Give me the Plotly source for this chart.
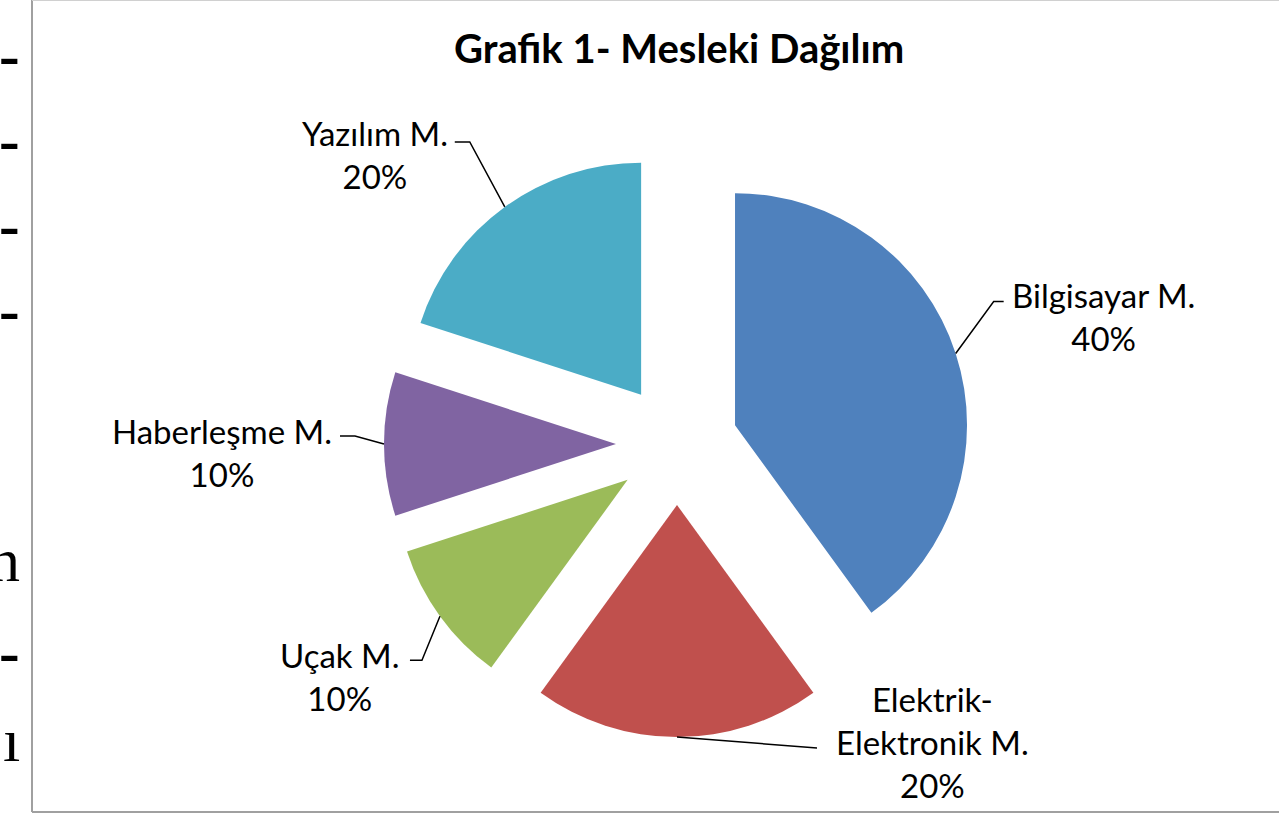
import math
import plotly.graph_objects as go

# ---- data ----
categories = ["Bilgisayar M.", "Elektrik-<br>Elektronik M.", "Uçak M.", "Haberleşme M.", "Yazılım M."]
values = [40, 20, 10, 10, 20]
colors = ["#4F81BD", "#C0504D", "#9BBB59", "#8064A2", "#4BACC6"]
title_text = "Grafik 1- Mesleki Dağılım"

# ---- layout constants (page pixels) ----
W, H = 1279, 815
CX, CY = 677, 444           # pie centre
R = 232                     # slice radius
PULL = 0.263
FONT = "Lato"

half = R * (1 + PULL)


def px(x):
    return x / W


def py(y):
    return 1 - y / H


dom_x = [px(CX - half), px(CX + half)]
dom_y = [py(CY + half), py(CY - half)]

fig = go.Figure()
fig.add_trace(go.Pie(
    labels=[c.replace("<br>", " ") for c in categories],
    values=values,
    sort=False,
    direction="clockwise",
    rotation=0,
    pull=[PULL] * len(values),
    marker=dict(colors=colors, line=dict(width=0)),
    textinfo="none",
    hoverinfo="label+percent",
    showlegend=False,
    domain=dict(x=dom_x, y=dom_y),
))

# label placement (elbow and text offsets relative to slice edge point)
label_style = [
    dict(elbow=(38, -52), stub=10, text=(148, -37)),
    dict(elbow=(140, 11), stub=0, text=(255, 5)),
    dict(elbow=(-18, 44), stub=-12, text=(-100, 60)),
    dict(elbow=(-29, -8), stub=-15, text=(-162, 8)),
    dict(elbow=(-35, -65), stub=-15, text=(-130, -52)),
]

frame = dict(color="#a0a0a0", width=2)
shapes = [
    dict(type="line", xref="paper", yref="paper", x0=px(32), x1=px(32), y0=py(812), y1=py(0), line=frame),
    dict(type="line", xref="paper", yref="paper", x0=px(32), x1=1, y0=py(812), y1=py(812), line=frame),
    dict(type="line", xref="paper", yref="paper", x0=px(32), x1=1, y0=py(0.5), y1=py(0.5),
         line=dict(color="#d0d0d0", width=1)),
]
annotations = []
total = sum(values)
cum = 0
for cat, v, st in zip(categories, values, label_style):
    mid = (cum + v / 2) / total * 2 * math.pi
    cum += v
    ax_ = CX + half * math.sin(mid)
    ay_ = CY - half * math.cos(mid)
    ex, ey = ax_ + st["elbow"][0], ay_ + st["elbow"][1]
    sx = ex + st["stub"]
    shapes.append(dict(type="path", xref="paper", yref="paper",
                       path=f"M {px(ax_)},{py(ay_)} L {px(ex)},{py(ey)} L {px(sx)},{py(ey)}",
                       line=dict(color="black", width=1.5)))
    pct = f"{round(v / total * 100)}%"
    annotations.append(dict(
        x=px(ax_ + st["text"][0]), y=py(ay_ + st["text"][1]), xref="paper", yref="paper",
        text=f"{cat}<br>{pct}", showarrow=False, align="center",
        xanchor="center", yanchor="middle",
        font=dict(family=FONT, size=33, color="black"),
    ))

annotations.append(dict(
    x=px(679), y=py(48), xref="paper", yref="paper", text=f"<b>{title_text}</b>",
    showarrow=False, xanchor="center", yanchor="middle",
    font=dict(family=FONT, size=40, color="black"),
))

# fragments of surrounding document text visible at the left edge
for ch, yy in [("-", 55), ("-", 140), ("-", 225), ("-", 310), ("n", 560), ("-", 652), ("ı", 740)]:
    annotations.append(dict(
        x=px(22), y=py(yy), xref="paper", yref="paper", text=f"<b>{ch}</b>" if ch == "-" else ch,
        showarrow=False, xanchor="right", yanchor="middle",
        font=dict(family="Liberation Serif", size=62, color="black"),
    ))

fig.update_layout(
    width=W, height=H,
    margin=dict(l=0, r=0, t=0, b=0),
    paper_bgcolor="white", plot_bgcolor="white",
    shapes=shapes, annotations=annotations,
)

fig.write_html("out.html", config={"displayModeBar": False},
               post_script="document.body.style.margin='0px';document.body.style.overflow='hidden';")
